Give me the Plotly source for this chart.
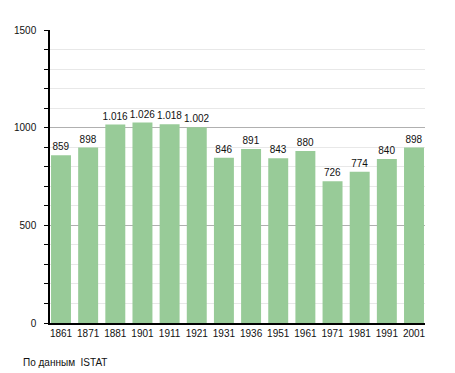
import plotly.graph_objects as go

years = ["1861", "1871", "1881", "1901", "1911", "1921", "1931", "1936",
         "1951", "1961", "1971", "1981", "1991", "2001"]
population = [859, 898, 1016, 1026, 1018, 1002, 846, 891, 843, 880, 726, 774, 840, 898]
labels = [f"{v:,}".replace(",", ".") for v in population]
source_note = "По данным  ISTAT"

fig = go.Figure()
fig.add_trace(go.Bar(
    x=years, y=population, text=labels, textposition="outside",
    cliponaxis=False, constraintext="none",
    marker=dict(color="#98cb98", line=dict(width=0)),
    textfont=dict(size=10, color="#111"),
))

fig.update_layout(
    width=447, height=365,
    margin=dict(l=42, r=30, t=22, b=50),
    paper_bgcolor="white", plot_bgcolor="white",
    font=dict(family="Liberation Sans, Arial, sans-serif", size=10, color="#111"),
    bargap=0.265,
    showlegend=False,
    xaxis=dict(
        type="category", showline=True, linecolor="black", linewidth=1.5,
        ticks="", showgrid=False, tickfont=dict(size=10),
        range=[-0.405, len(years) - 1 + 0.405], automargin=False,
    ),
    yaxis=dict(
        range=[0, 1500], tickvals=[0, 500, 1000, 1500],
        showline=True, linecolor="black", linewidth=1.5,
        ticks="outside", ticklen=4, tickcolor="black",
        showgrid=True, gridcolor="#b0b0b0", gridwidth=1,
        zeroline=False, ticklabelstandoff=6, automargin=False,
        minor=dict(dtick=100, showgrid=True, gridcolor="#e8e8e8",
                   ticks="outside", ticklen=4, tickcolor="black"),
        tickfont=dict(size=10),
    ),
    annotations=[dict(
        text=source_note, xref="paper", yref="paper",
        x=-29/375, y=-39/293, xanchor="left", yanchor="middle",
        showarrow=False, font=dict(size=10, color="#111"),
    )],
)

fig.write_html("out.html")
